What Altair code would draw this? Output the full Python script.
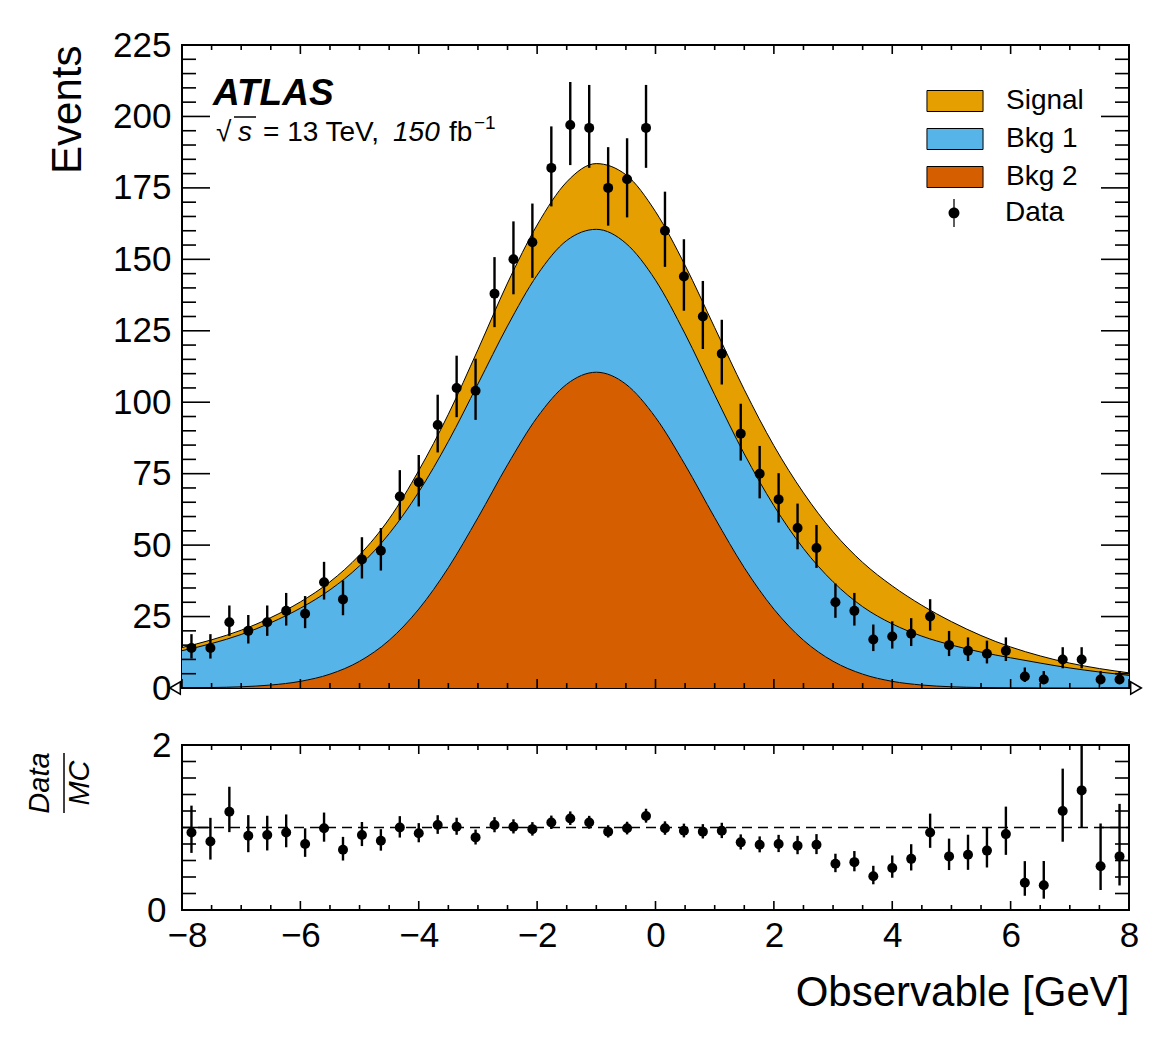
import altair as alt
import numpy as np
import pandas as pd

FONT = "Liberation Sans"

# data histogram, 50 bins of 0.32 GeV
centres = [-7.84, -7.52, -7.2, -6.88, -6.56, -6.24, -5.92, -5.6, -5.28, -4.96,
           -4.64, -4.32, -4.0, -3.68, -3.36, -3.04, -2.72, -2.4, -2.08, -1.76,
           -1.44, -1.12, -0.8, -0.48, -0.16, 0.16, 0.48, 0.8, 1.12, 1.44,
           1.76, 2.08, 2.4, 2.72, 3.04, 3.36, 3.68, 4.0, 4.32, 4.64,
           4.96, 5.28, 5.6, 5.92, 6.24, 6.56, 6.88, 7.2, 7.52, 7.84]
counts = [14, 14, 23, 20, 23, 27, 26, 37, 31, 45,
          48, 67, 72, 92, 105, 104, 138, 150, 156, 182,
          197, 196, 175, 178, 196, 160, 144, 130, 117, 89,
          75, 66, 56, 49, 30, 27, 17, 18, 19, 25,
          15, 13, 12, 13, 4, 3, 10, 10, 3, 3]
# Data / MC as drawn in the lower panel
ratio = [0.94, 0.83, 1.19, 0.90, 0.91, 0.94, 0.80, 0.99, 0.73, 0.91,
         0.84, 1.00, 0.93, 1.03, 1.01, 0.88, 1.03, 1.01, 0.98, 1.06,
         1.11, 1.06, 0.95, 0.99, 1.14, 0.99, 0.96, 0.95, 0.96, 0.82,
         0.79, 0.80, 0.78, 0.79, 0.56, 0.58, 0.41, 0.51, 0.62, 0.94,
         0.65, 0.67, 0.72, 0.92, 0.33, 0.30, 1.20, 1.45, 0.53, 0.65]

# MC templates, every 0.5 GeV
grid = [-8.0, -7.5, -7.0, -6.5, -6.0, -5.5, -5.0, -4.5, -4.0, -3.5, -3.0,
        -2.5, -2.0, -1.5, -1.0, -0.5, 0.0, 0.5, 1.0, 1.5, 2.0, 2.5,
        3.0, 3.5, 4.0, 4.5, 5.0, 5.5, 6.0, 6.5, 7.0, 7.5, 8.0]
bkg2 = [0.06, 0.16, 0.43, 1.04, 2.33, 4.85, 9.36, 16.7, 27.6, 42.1, 59.6,
        78.1, 94.7, 106.3, 110.5, 106.3, 94.7, 78.1, 59.6, 42.1, 27.6, 16.7,
        9.36, 4.85, 2.33, 1.04, 0.43, 0.16, 0.06, 0.02, 0.0, 0.0, 0.0]
bkg1 = [13.0, 15.4, 18.3, 21.8, 25.6, 29.5, 33.4, 37.3, 41.0, 44.2, 46.8,
        48.6, 49.8, 50.3, 50.0, 49.3, 48.0, 45.8, 43.0, 39.8, 36.2, 32.1,
        27.8, 23.6, 20.1, 17.1, 14.6, 12.4, 10.5, 8.7, 7.0, 5.6, 4.4]
signal = [1.1, 1.3, 1.5, 1.8, 2.2, 2.8, 3.8, 5.2, 7.5, 9.5, 12.0,
          15.0, 17.5, 20.5, 23.0, 24.0, 24.0, 24.0, 23.5, 22.5, 21.0, 19.5,
          17.5, 15.5, 13.3, 10.8, 8.2, 5.8, 3.8, 2.5, 1.7, 1.2, 0.9]

processes = ["Signal", "Bkg 1", "Bkg 2"]
colours = ["#e69f00", "#56b4e9", "#d55e00"]

# tick positions
x_major = [-8, -6, -4, -2, 0, 2, 4, 6, 8]
x_minor = [-7.5, -7, -6.5, -5.5, -5, -4.5, -3.5, -3, -2.5, -1.5, -1, -0.5,
           0.5, 1, 1.5, 2.5, 3, 3.5, 4.5, 5, 5.5, 6.5, 7, 7.5]
y_major = [0, 25, 50, 75, 100, 125, 150, 175, 200, 225]
y_minor = [5, 10, 15, 20, 30, 35, 40, 45, 55, 60, 65, 70, 80, 85, 90, 95,
           105, 110, 115, 120, 130, 135, 140, 145, 155, 160, 165, 170,
           180, 185, 190, 195, 205, 210, 215, 220]
r_major = [0, 1, 2]
r_minor = [0.2, 0.4, 0.6, 0.8, 1.2, 1.4, 1.6, 1.8]

W, H1, H2 = 947, 643, 165

# stacked bands
b2 = np.array(bkg2)
b12 = b2 + np.array(bkg1)
tot = b12 + np.array(signal)
bands = pd.concat([
    pd.DataFrame({"x": grid, "lo": 0.0, "hi": b2, "proc": "Bkg 2"}),
    pd.DataFrame({"x": grid, "lo": b2, "hi": b12, "proc": "Bkg 1"}),
    pd.DataFrame({"x": grid, "lo": b12, "hi": tot, "proc": "Signal"}),
])

# Poisson (Gehrels) intervals for the data
n = np.array(counts, dtype=float)
up = 1.0 + np.sqrt(n + 0.75)
dn = n - n * (1 - 1 / (9 * n) - 1 / (3 * np.sqrt(n))) ** 3
r = np.array(ratio)
pts = pd.DataFrame({
    "c": centres, "n": n, "lo": n - dn, "hi": n + up, "lab": "Data",
    "r": r, "rlo": r - r * dn / n, "rhi": r + r * up / n,
})

xs = alt.Scale(domain=[-8, 8], nice=False, zero=False)
ys = alt.Scale(domain=[0, 225], nice=False)
rs = alt.Scale(domain=[0, 2], nice=False)

ax_y = alt.Axis(values=y_major, ticks=False, domain=False, grid=False, format="d",
                labelFlush=False, labelFontSize=35, labelPadding=11, labelColor="black",
                title="Events", titleFontSize=42, titleFontWeight="normal",
                titleColor="black", titleAngle=270, titleAlign="right",
                titleBaseline="alphabetic", titleX=-102, titleY=0)
# the corner labels "0" and "-8" of the lower panel are nudged apart a little
ax_r = alt.Axis(values=r_major, ticks=False, domain=False, grid=False, format="d",
                labelFlush=False, labelFontSize=35, labelColor="black",
                labelPadding={"condition": {"test": "datum.value == 0", "value": 16}, "value": 11},
                title=None)
ax_x = alt.Axis(values=x_major, ticks=False, domain=False, grid=False, format="d",
                labelFlush=False, labelFontSize=35, labelPadding=8, labelColor="black",
                labelOffset={"condition": {"test": "datum.value == -8", "value": 5}, "value": 0},
                title="Observable [GeV]", titleFontSize=42, titleFontWeight="normal",
                titleColor="black", titleAlign="right", titleBaseline="alphabetic",
                titleX=W, titleY=95)

RECT = "M-2.67,-1H2.67V1H-2.67Z"
MARKER = ("M-0.045,-1H0.045V1H-0.045Z"
          "M0.39,0A0.39,0.39,0,1,1,-0.39,0A0.39,0.39,0,1,1,0.39,0Z")


def x_ticks(vals, length, height, axis):
    base = alt.Chart(pd.DataFrame({"v": vals}))
    ex = alt.X("v:Q", scale=xs, axis=axis)
    return [
        base.mark_rule(color="black", strokeWidth=1.6).encode(
            x=ex, y=alt.value(height), y2=alt.value(height - length)),
        base.mark_rule(color="black", strokeWidth=1.6).encode(
            x=ex, y=alt.value(0), y2=alt.value(length)),
    ]


def y_ticks(vals, length, scale, axis):
    base = alt.Chart(pd.DataFrame({"v": vals}))
    ey = alt.Y("v:Q", scale=scale, axis=axis)
    return [
        base.mark_rule(color="black", strokeWidth=1.6).encode(
            y=ey, x=alt.value(0), x2=alt.value(length)),
        base.mark_rule(color="black", strokeWidth=1.6).encode(
            y=ey, x=alt.value(W), x2=alt.value(W - length)),
    ]


def label(text, x, y, size, **kw):
    return alt.Chart(pd.DataFrame({"t": [text]})).mark_text(
        align=kw.pop("align", "left"), baseline="alphabetic", fontSize=size,
        color="black", **kw).encode(x=alt.value(x), y=alt.value(y), text="t:N")


# ---- main panel
areas = alt.Chart(bands).mark_area(interpolate="monotone").encode(
    x=alt.X("x:Q", scale=xs, axis=None),
    y=alt.Y("lo:Q", scale=ys, axis=ax_y),
    y2="hi:Q",
    fill=alt.Fill("proc:N", scale=alt.Scale(domain=processes, range=colours),
                  legend=alt.Legend(title=None, orient="none", legendX=759, legendY=42,
                                    symbolType=RECT, symbolSize=441,
                                    symbolStrokeColor="black", symbolStrokeWidth=1,
                                    symbolOpacity=1, labelFontSize=28,
                                    labelColor="black", labelOffset=37, rowPadding=10)),
)
edges = alt.Chart(bands).mark_line(interpolate="monotone", color="black", strokeWidth=1).encode(
    x=alt.X("x:Q", scale=xs, axis=None),
    y=alt.Y("hi:Q", scale=ys, axis=ax_y),
    detail="proc:N",
)
tri = pd.DataFrame({"x": [-8], "y": [0]})
tri_r = pd.DataFrame({"x": [8], "y": [0]})
tri_l = alt.Chart(tri).mark_point(shape="triangle-left", filled=True, fill="white",
                                  stroke="black", strokeWidth=1.5, size=150,
                                  opacity=1, xOffset=-7).encode(
    x=alt.X("x:Q", scale=xs, axis=None), y=alt.Y("y:Q", scale=ys, axis=ax_y))
tri_rt = alt.Chart(tri_r).mark_point(shape="triangle-right", filled=True, fill="white",
                                     stroke="black", strokeWidth=1.5, size=150,
                                     opacity=1, xOffset=7).encode(
    x=alt.X("x:Q", scale=xs, axis=None), y=alt.Y("y:Q", scale=ys, axis=ax_y))
bars = alt.Chart(pts).mark_rule(color="black", strokeWidth=2.4).encode(
    x=alt.X("c:Q", scale=xs, axis=None),
    y=alt.Y("lo:Q", scale=ys, axis=ax_y), y2="hi:Q")
dots = alt.Chart(pts).mark_circle(size=100, opacity=1).encode(
    x=alt.X("c:Q", scale=xs, axis=None),
    y=alt.Y("n:Q", scale=ys, axis=ax_y),
    color=alt.Color("lab:N", scale=alt.Scale(domain=["Data"], range=["black"]),
                    legend=alt.Legend(title=None, orient="none", legendX=758, legendY=154,
                                      symbolType=MARKER, symbolSize=784,
                                      symbolStrokeWidth=0, symbolOpacity=1,
                                      labelFontSize=28, labelColor="black",
                                      labelOffset=37)),
)
overline = alt.Chart(pd.DataFrame({"a": [0]})).mark_rule(color="black", strokeWidth=1.5).encode(
    x=alt.value(52), x2=alt.value(74), y=alt.value(72))
texts = [
    label("ATLAS", 31, 60, 37, fontWeight="bold", fontStyle="italic"),
    label("\u221a", 34, 96, 28),
    label("s", 56, 96, 28, fontStyle="italic"),
    label("= 13 TeV,", 81, 96, 28),
    label("150", 211, 96, 28, fontStyle="italic"),
    label("fb", 267, 96, 28),
    label("\u22121", 292, 84, 19),
]
main = alt.layer(
    areas, edges,
    *x_ticks(x_major, 9, H1, None), *x_ticks(x_minor, 5, H1, None),
    *y_ticks(y_major, 28, ys, ax_y), *y_ticks(y_minor, 14, ys, ax_y),
    tri_l, tri_rt, bars, dots, overline, *texts,
).properties(width=W, height=H1)

# ---- ratio panel
unity = alt.Chart(pd.DataFrame({"u": [1.0]})).mark_rule(
    color="black", strokeWidth=1.5, strokeDash=[10, 6]).encode(
    y=alt.Y("u:Q", scale=rs, axis=ax_r), x=alt.value(0), x2=alt.value(W))
rbars = alt.Chart(pts).mark_rule(color="black", strokeWidth=2.4, clip=True).encode(
    x=alt.X("c:Q", scale=xs, axis=ax_x),
    y=alt.Y("rlo:Q", scale=rs, axis=ax_r), y2="rhi:Q")
rdots = alt.Chart(pts).mark_circle(size=100, opacity=1, color="black").encode(
    x=alt.X("c:Q", scale=xs, axis=ax_x),
    y=alt.Y("r:Q", scale=rs, axis=ax_r))
frac = alt.Chart(pd.DataFrame({"a": [0]})).mark_rule(color="black", strokeWidth=1.5).encode(
    x=alt.value(-118), y=alt.value(8), y2=alt.value(68))
rtitle = [
    label("Data", -133, 38, 29, fontStyle="italic", angle=270, align="center"),
    label("MC", -93, 38, 29, fontStyle="italic", angle=270, align="center"),
]
lower = alt.layer(
    unity,
    *x_ticks(x_major, 9, H2, ax_x), *x_ticks(x_minor, 5, H2, ax_x),
    *y_ticks(r_major, 28, rs, ax_r), *y_ticks(r_minor, 14, rs, ax_r),
    rbars, rdots, frac, *rtitle,
).properties(width=W, height=H2)

chart = alt.vconcat(main, lower, spacing=57, bounds="flush").properties(
    padding={"left": 17, "top": 19, "right": 10, "bottom": 10}
).configure(font=FONT).configure_view(stroke="black", strokeWidth=2)

chart.save("out.html", embed_options={"renderer": "svg", "actions": False})
